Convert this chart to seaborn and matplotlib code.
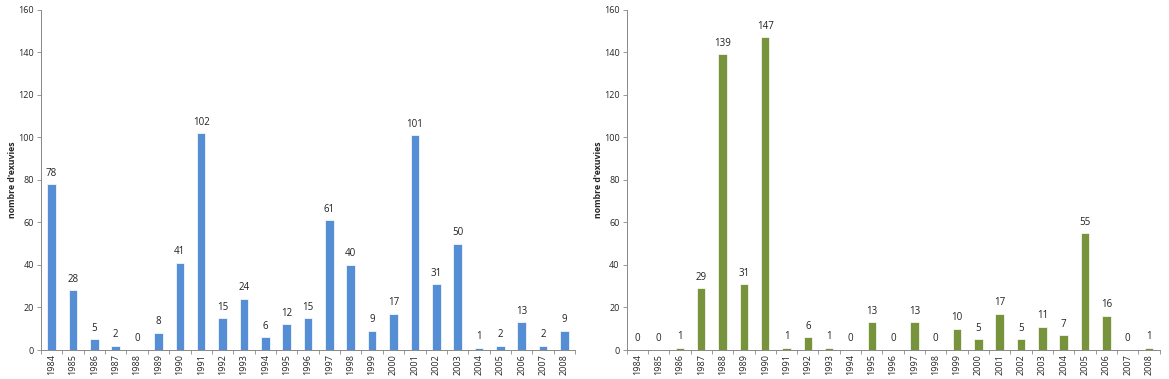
import pandas as pd
import seaborn as sns
import matplotlib.pyplot as plt
from matplotlib.ticker import FixedLocator

years = [str(y) for y in range(1984, 2009)]
counts_left = [78, 28, 5, 2, 0, 8, 41, 102, 15, 24, 6, 12, 15, 61, 40, 9, 17, 101, 31, 50, 1, 2, 13, 2, 9]
counts_right = [0, 0, 1, 29, 139, 31, 147, 1, 6, 1, 0, 13, 0, 13, 0, 10, 5, 17, 5, 11, 7, 55, 16, 0, 1]

sns.set_style("white")
plt.rcParams['font.family'] = ['Open Sans', 'DejaVu Sans']

fig = plt.figure(figsize=(11.69, 3.79), dpi=100)
ax1 = fig.add_axes([0.035, 0.0765, 0.457, 0.8975])
ax2 = fig.add_axes([0.536, 0.0765, 0.456, 0.8975])

panels = [(ax1, counts_left, "#558ED5"), (ax2, counts_right, "#77933C")]

for ax, counts, col in panels:
    df = pd.DataFrame({"annee": years, "exuvies": counts})
    sns.barplot(data=df, x="annee", y="exuvies", color=col, width=0.4,
                saturation=1, ax=ax, edgecolor="white", linewidth=0.5)
    ax.bar_label(ax.containers[0], fontsize=7, padding=4, color="#222222")
    ax.set_ylim(0, 160)
    ax.set_xlim(-0.5, len(years) - 0.5)
    ax.set_yticks(range(0, 161, 20))
    ax.tick_params(axis="y", labelsize=6.5, length=3, width=0.6, color="#888888", left=True, pad=2)
    ax.tick_params(axis="x", which="major", labelsize=6.5, rotation=90, length=0, pad=3)
    ax.xaxis.set_minor_locator(FixedLocator([i + 0.5 for i in range(-1, len(years))]))
    ax.tick_params(axis="x", which="minor", length=3, width=0.6, color="#888888", bottom=True)
    ax.set_xlabel("")
    ax.set_ylabel("nombre d'exuvies", fontsize=6.3, fontweight="bold", labelpad=1)
    for side in ["top", "right"]:
        ax.spines[side].set_visible(False)
    for side in ["left", "bottom"]:
        ax.spines[side].set_color("#888888")
        ax.spines[side].set_linewidth(0.7)

fig.savefig("out.png", dpi=100)
